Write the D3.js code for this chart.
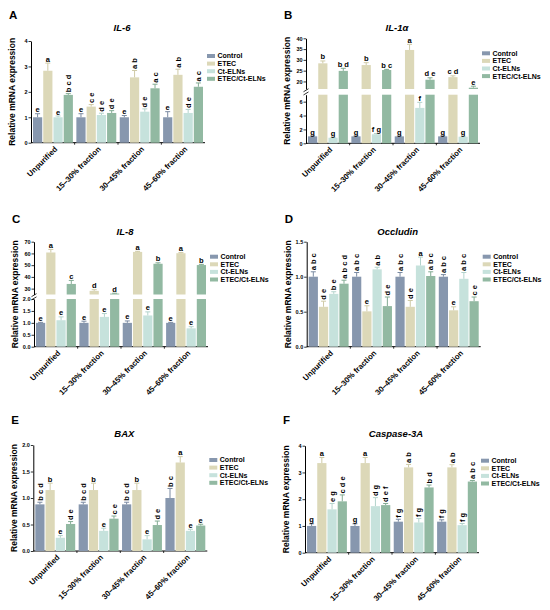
<!DOCTYPE html>
<html>
<head>
<meta charset="utf-8">
<script src="https://cdn.jsdelivr.net/npm/d3@7"></script>
<style>
  body { margin: 0; background: #fff; }
  svg { display: block; -webkit-font-smoothing: antialiased; }
  text { fill: #000; }
</style>
</head>
<body>
<div id="chart"></div>
<script>
// ---- data ----
var groups = ["Unpurified", "15–30% fraction", "30–45% fraction", "45–60% fraction"];
var series = ["Control", "ETEC", "Ct-ELNs", "ETEC/Ct-ELNs"];

// rows = groups, columns = series
var il6Mean = [[1.0, 2.83, 1.0, 1.88], [1.0, 1.42, 1.09, 1.17], [1.0, 2.57, 1.22, 2.14], [1.0, 2.67, 1.17, 2.2]];
var il6Sd   = [[0.14, 0.3, 0.05, 0.05], [0.14, 0.08, 0.07, 0.09], [0.07, 0.27, 0.11, 0.16], [0.22, 0.22, 0.14, 0.15]];
var il6Sig  = [["e", "a", "e", "b c d"], ["e", "c e", "d e", "d e"], ["e", "a b", "d e", "a c"], ["e", "a b", "d e", "a c"]];
var il6Ticks = [0, 1, 2, 3, 4];

var il1aMean = [[1.0, 28.4, 0.8, 24.9], [1.0, 27.6, 1.3, 25.3], [1.0, 34.6, 5.1, 20.8], [1.0, 22.0, 0.95, 17.1]];
var il1aSd   = [[0.05, 1.1, 0.05, 1.2], [0.05, 1.1, 0.1, 0.3], [0.05, 2.6, 0.8, 0.9], [0.05, 0.6, 0.05, 0.7]];
var il1aSig  = [["g", "b", "g", "b d"], ["g", "b", "f g", "b c"], ["g", "a", "f", "d e"], ["g", "c d", "g", "e"]];
var il1aTicksLow = [0, 2, 4, 6];
var il1aTicksHigh = [20, 25, 30, 35, 40];

var il8Mean = [[1.0, 60.8, 1.11, 34.0], [1.0, 28.1, 1.25, 25.8], [1.0, 61.3, 1.31, 51.2], [1.0, 60.2, 0.77, 50.1]];
var il8Sd   = [[0.02, 2.6, 0.14, 3.0], [0.07, 1.0, 0.14, 0.3], [0.08, 0.5, 0.15, 0.8], [0.02, 0.5, 0.07, 0.6]];
var il8Sig  = [["e", "a", "e", "c"], ["e", "d", "e", "d"], ["e", "a", "e", "b"], ["e", "a", "e", "b"]];
var il8TicksLow = [0, 0.5, 1.0, 1.5, 2.0];
var il8TicksHigh = [30, 40, 50, 60, 70];

var occMean = [[1.0, 0.57, 0.755, 0.9], [1.0, 0.505, 1.105, 0.58], [1.0, 0.57, 1.16, 1.01], [1.0, 0.52, 0.97, 0.65]];
var occSd   = [[0.07, 0.08, 0.03, 0.05], [0.06, 0.08, 0.03, 0.13], [0.06, 0.09, 0.12, 0.06], [0.03, 0.05, 0.09, 0.06]];
var occSig  = [["a b c", "d e", "b e", "a b c d"], ["a b c", "e", "a b", "d e"], ["a b c", "d e", "a", "a b c"], ["a b c", "e", "a b c", "c e"]];
var occTicks = [0, 0.5, 1.0, 1.5];

var baxMean = [[0.88, 1.15, 0.25, 0.51], [0.88, 1.15, 0.38, 0.61], [0.88, 1.15, 0.22, 0.49], [1.0, 1.67, 0.38, 0.48]];
var baxSd   = [[0.04, 0.13, 0.04, 0.045], [0.04, 0.13, 0.05, 0.05], [0.04, 0.13, 0.07, 0.075], [0.18, 0.11, 0.03, 0.025]];
var baxSig  = [["b c d", "b", "e", "d e"], ["b c d", "b", "e", "c e"], ["b c d", "b", "e", "d e"], ["b c", "a", "e", "e"]];
var baxTicks = [0, 0.5, 1.0, 1.5, 2.0];

var casMean = [[1.0, 3.35, 1.62, 1.92], [1.0, 3.35, 1.74, 1.78], [1.16, 3.19, 1.13, 2.44], [1.16, 3.19, 1.03, 2.66]];
var casSd   = [[0.08, 0.21, 0.22, 0.24], [0.08, 0.21, 0.32, 0.06], [0.09, 0.11, 0.15, 0.09], [0.07, 0.1, 0.06, 0.04]];
var casSig  = [["g", "a", "e g", "c d e"], ["g", "a", "d g", "d e f"], ["f g", "a b", "f g", "b d"], ["f g", "a b", "f g", "a b c"]];
var casTicks = [0, 1, 2, 3, 4];

// ---- style ----
var FONT = "'Liberation Sans', Arial, sans-serif";
var colors = ["#8797ae", "#dcd8b8", "#c6e2dc", "#92b9a2"];
var errColors = ["#7a8aa2", "#cfcaa6", "#b3d3cc", "#82ab93"];

var color = d3.scaleOrdinal().domain(series).range(colors);
var errColor = d3.scaleOrdinal().domain(series).range(errColors);

var svg = d3.select("#chart").append("svg")
    .attr("width", 550)
    .attr("height", 610)
    .style("font-family", FONT);

svg.append("rect").attr("width", 550).attr("height", 610).attr("fill", "#fff");

var panels = [
  { key: "A", title: "IL-6", x0: 31, titleY: 30.5, keyY: 19, rot: true,
    mean: il6Mean, sd: il6Sd, sig: il6Sig,
    segs: [{ dom: [0, 4], rng: [142.7, 41], ticks: il6Ticks, fmt: d3.format("d") }] },
  { key: "B", title: "IL-1α", x0: 306, titleY: 31, keyY: 19, rot: false,
    mean: il1aMean, sd: il1aSd, sig: il1aSig,
    segs: [{ dom: [0, 7], rng: [143.3, 94.7], ticks: il1aTicksLow, fmt: d3.format("d") },
           { dom: [16.5, 40], rng: [89, 38.3], ticks: il1aTicksHigh, fmt: d3.format("d") }] },
  { key: "C", title: "IL-8", x0: 34, titleY: 235, keyY: 223, rot: false,
    mean: il8Mean, sd: il8Sd, sig: il8Sig,
    segs: [{ dom: [0, 2], rng: [346.7, 299], ticks: il8TicksLow, fmt: d3.format(".1f") },
           { dom: [25, 70], rng: [294.5, 241.7], ticks: il8TicksHigh, fmt: d3.format("d") }] },
  { key: "D", title: "Occludin", x0: 306.7, titleY: 235, keyY: 223, rot: true,
    mean: occMean, sd: occSd, sig: occSig,
    segs: [{ dom: [0, 1.5], rng: [346.7, 241.7], ticks: occTicks, fmt: d3.format(".1f") }] },
  { key: "E", title: "BAX", x0: 33.3, titleY: 437, keyY: 424, rot: true,
    mean: baxMean, sd: baxSd, sig: baxSig,
    segs: [{ dom: [0, 2], rng: [551, 445], ticks: baxTicks, fmt: d3.format(".1f") }] },
  { key: "F", title: "Caspase-3A", x0: 305, titleY: 437, keyY: 424, rot: true,
    mean: casMean, sd: casSd, sig: casSig,
    segs: [{ dom: [0, 4], rng: [552.7, 445.7], ticks: casTicks, fmt: d3.format("d") }] }
];

panels.forEach(drawPanel);

function drawPanel(p) {
  var g = svg.append("g");

  var x = d3.scaleBand()
    .domain(groups)
    .range([p.x0 + 2, p.x0 + 172])
    .paddingInner(0.08);

  var xs = d3.scaleBand()
    .domain(series)
    .range([0, x.bandwidth()])
    .paddingInner(0.1);

  var segs = p.segs.map(function (s) {
    return Object.assign({}, s, { y: d3.scaleLinear().domain(s.dom).range(s.rng) });
  });
  var bottom = segs[0].rng[0];
  var top = segs[segs.length - 1].rng[1];

  // panel key and title
  g.append("text")
    .attr("x", p.x0 - 22)
    .attr("y", p.keyY)
    .attr("font-size", 11.5)
    .attr("font-weight", "bold")
    .text(p.key);

  g.append("text")
    .attr("x", p.x0 + 91)
    .attr("y", p.titleY)
    .attr("text-anchor", "middle")
    .attr("font-size", 9.5)
    .attr("font-weight", "bold")
    .attr("font-style", "italic")
    .text(p.title);

  // y axis label
  g.append("text")
    .attr("transform", "translate(" + (p.x0 - 16) + "," + ((top + bottom) / 2) + ") rotate(-90)")
    .attr("text-anchor", "middle")
    .attr("font-size", 8.5)
    .attr("font-weight", "bold")
    .text("Relative mRNA expression");

  // y axis (one per segment)
  segs.forEach(function (s) {
    g.append("g")
      .attr("transform", "translate(" + p.x0 + ",0)")
      .call(d3.axisLeft(s.y).tickValues(s.ticks).tickFormat(s.fmt).tickSize(2.5).tickSizeOuter(0).tickPadding(1))
      .call(function (a) {
        a.select(".domain").attr("stroke-width", 1);
        a.selectAll(".tick line").attr("stroke-width", 0.8);
        a.selectAll("text")
          .attr("font-size", 5.5)
          .attr("font-weight", "bold")
          .attr("font-family", FONT)
          .attr("fill", "#000");
      });
  });

  // break marks
  if (segs.length > 1) {
    var yb = (segs[0].rng[1] + segs[1].rng[0]) / 2;
    [-1.6, 1.6].forEach(function (dy) {
      g.append("line")
        .attr("x1", p.x0 - 2.5).attr("x2", p.x0 + 2.5)
        .attr("y1", yb + dy + 1.5).attr("y2", yb + dy - 1.5)
        .attr("stroke", "#000").attr("stroke-width", 0.8);
    });
  }

  // x axis
  g.append("line")
    .attr("x1", p.x0).attr("x2", p.x0 + 174)
    .attr("y1", bottom).attr("y2", bottom)
    .attr("stroke", "#000").attr("stroke-width", 1);

  groups.slice(1).forEach(function (gn) {
    var tx = x(gn) - (x.step() - x.bandwidth()) / 2;
    g.append("line")
      .attr("x1", tx).attr("x2", tx)
      .attr("y1", bottom).attr("y2", bottom + 2)
      .attr("stroke", "#000").attr("stroke-width", 0.8);
  });

  g.selectAll(".xlab")
    .data(groups)
    .enter().append("text")
      .attr("class", "xlab")
      .attr("transform", function (d) {
        return "translate(" + (x(d) + x.bandwidth() / 2 + 3) + "," + (bottom + 5) + ") rotate(-45)";
      })
      .attr("text-anchor", "end")
      .attr("dy", "0.35em")
      .attr("font-size", 7.8)
      .attr("font-weight", "bold")
      .text(function (d) { return d; });

  // bars
  var rows = [];
  groups.forEach(function (gn, gi) {
    series.forEach(function (sn, si) {
      rows.push({ g: gn, s: sn, v: p.mean[gi][si], e: p.sd[gi][si], t: p.sig[gi][si] });
    });
  });

  var cell = g.selectAll(".cell")
    .data(rows)
    .enter().append("g")
      .attr("class", "cell");

  segs.forEach(function (s) {
    cell.filter(function (d) { return d.v > s.dom[0]; })
      .append("rect")
        .attr("x", function (d) { return x(d.g) + xs(d.s); })
        .attr("width", xs.bandwidth())
        .attr("y", function (d) { return s.y(Math.min(d.v, s.dom[1])); })
        .attr("height", function (d) { return s.y(s.dom[0]) - s.y(Math.min(d.v, s.dom[1])); })
        .attr("fill", function (d) { return color(d.s); });
  });

  function segOf(v) {
    var found = segs[0];
    segs.forEach(function (s) { if (v >= s.dom[0]) found = s; });
    return found;
  }

  cell.each(function (d) {
    var c = d3.select(this);
    var s = segOf(d.v);
    var cx = x(d.g) + xs(d.s) + xs.bandwidth() / 2;
    var y1 = s.y(d.v);
    var y2 = s.y(d.v + d.e);

    c.append("line")
      .attr("x1", cx).attr("x2", cx)
      .attr("y1", y1).attr("y2", y2)
      .attr("stroke", errColor(d.s)).attr("stroke-width", 1);
    c.append("line")
      .attr("x1", cx - 2.5).attr("x2", cx + 2.5)
      .attr("y1", y2).attr("y2", y2)
      .attr("stroke", errColor(d.s)).attr("stroke-width", 1);

    var vertical = p.rot && d.t.indexOf(" ") >= 0;
    var lab = c.append("text")
      .attr("font-size", 7.5)
      .attr("font-weight", "bold")
      .attr("fill", "#000")
      .text(d.t);
    if (vertical) {
      lab.attr("transform", "translate(" + cx + "," + (y2 - 1.5) + ") rotate(-90)")
        .attr("text-anchor", "start")
        .attr("dy", "0.35em");
    } else {
      lab.attr("x", cx)
        .attr("y", y2 - 1.5)
        .attr("text-anchor", "middle");
    }
  });

  // legend
  var legend = g.selectAll(".legend")
    .data(series)
    .enter().append("g")
      .attr("class", "legend")
      .attr("transform", function (d, i) {
        return "translate(" + (p.x0 + 176) + "," + (top + 15 + i * 7.6) + ")";
      });

  legend.append("rect")
    .attr("x", 0).attr("y", -2)
    .attr("width", 8).attr("height", 4)
    .attr("fill", function (d) { return color(d); });

  legend.append("text")
    .attr("x", 10.5)
    .attr("dy", "0.35em")
    .attr("font-size", 7)
    .attr("font-weight", "bold")
    .attr("fill", "#000")
    .text(function (d) { return d; });
}
</script>
</body>
</html>
